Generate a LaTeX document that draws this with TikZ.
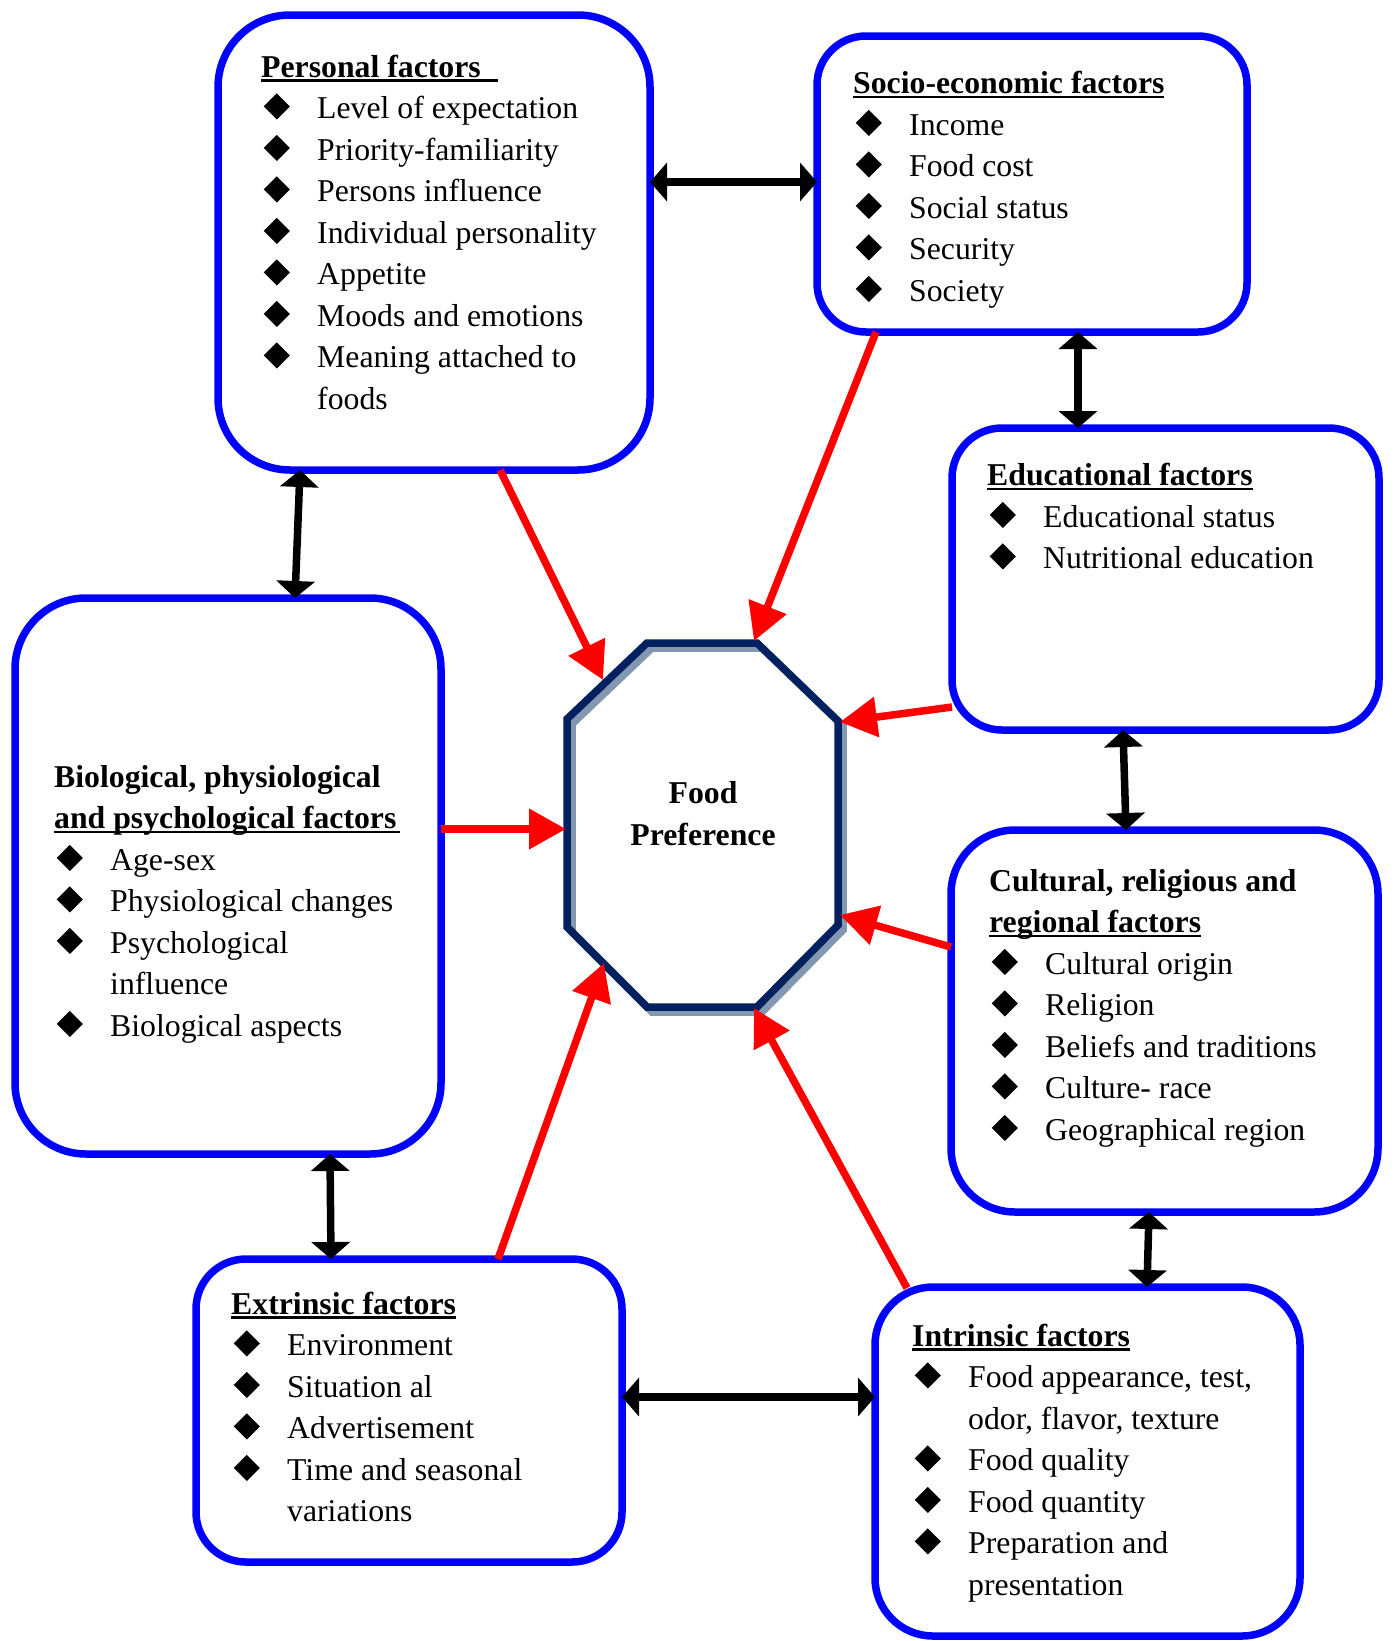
\documentclass[tikz,border=0pt]{standalone}
\usepackage{fontspec}
\setmainfont{Liberation Serif}
\usepackage{graphicx}
\usetikzlibrary{arrows.meta,calc}
\definecolor{boxblue}{HTML}{0000FF}
\definecolor{navy}{HTML}{002060}
\definecolor{shadowgray}{HTML}{8497B0}
\definecolor{arrowred}{HTML}{FF0000}
\newsavebox\ulbox
\newcommand\ulx[2][0pt]{\sbox\ulbox{#2\hspace*{#1}}\rlap{\rule[-4.5pt]{\wd\ulbox}{2.5pt}}\usebox\ulbox}
\newcommand\dmd{\makebox[56pt][l]{\hspace*{2.5pt}\raisebox{-1pt}{\rotatebox{45}{\rule{18.5pt}{18.5pt}}}}}
\newcommand\cont{\hspace*{56pt}}
\tikzset{
  factorbox/.style={draw=boxblue, line width=7.5pt, rounded corners=#1, inner sep=0pt, outer sep=0pt},
  boxtext/.style={anchor=base west, inner sep=0pt, font=\fontsize{31.75pt}{41.5pt}\selectfont},
  influence/.style={draw=arrowred, line width=7.5pt, -{Triangle[length=37pt,width=39pt]}},
  mutual/.style={draw=black, line width=7.5pt, {Triangle[length=17pt,width=38pt]}-{Triangle[length=17pt,width=38pt]}},
  octline/.style={draw=navy, line width=7.5pt},
  octshadow/.style={draw=shadowgray, line width=7.5pt},
}
\begin{document}
\begin{tikzpicture}[x=1pt,y=-1pt]
\useasboundingbox[fill=white] (0,0) rectangle (1395,1641);

% boxes
\node[factorbox=72pt, minimum width=432pt, minimum height=455pt] (P) at (434,242.5) {};
\node[factorbox=49pt, minimum width=430pt, minimum height=296pt] (S) at (1032,184) {};
\node[factorbox=50pt, minimum width=427pt, minimum height=302pt] (E) at (1165.5,579) {};
\node[factorbox=71pt, minimum width=426pt, minimum height=556pt] (B) at (228,876) {};
\node[factorbox=64pt, minimum width=427pt, minimum height=382pt] (C) at (1164.5,1021) {};
\node[factorbox=50pt, minimum width=426pt, minimum height=303pt] (X) at (409,1410.5) {};
\node[factorbox=58pt, minimum width=425pt, minimum height=349pt] (I) at (1087.5,1461.5) {};

% texts
\node[boxtext] (Pt) at (261,77) {\begin{tabular}[t]{@{}l@{}}
\textbf{\ulx[17pt]{Personal factors}}\\
\dmd Level of expectation\\
\dmd Priority-familiarity\\
\dmd Persons influence\\
\dmd Individual personality\\
\dmd Appetite\\
\dmd Moods and emotions\\
\dmd Meaning attached to\\
\cont foods
\end{tabular}};

\node[boxtext] (St) at (853,93.5) {\begin{tabular}[t]{@{}l@{}}
\textbf{\ulx{Socio-economic factors}}\\
\dmd Income\\
\dmd Food cost\\
\dmd Social status\\
\dmd Security\\
\dmd Society
\end{tabular}};

\node[boxtext] (Et) at (987,485.5) {\begin{tabular}[t]{@{}l@{}}
\textbf{\ulx{Educational factors}}\\
\dmd Educational status\\
\dmd Nutritional education
\end{tabular}};

\node[boxtext] (Bt) at (54,787) {\begin{tabular}[t]{@{}l@{}}
\textbf{Biological, physiological}\\
\textbf{\ulx[4pt]{and psychological factors}}\\
\dmd Age-sex\\
\dmd Physiological changes\\
\dmd Psychological\\
\cont influence\\
\dmd Biological aspects
\end{tabular}};

\node[boxtext] (Ct) at (989,891) {\begin{tabular}[t]{@{}l@{}}
\textbf{Cultural, religious and}\\
\textbf{\ulx{regional factors}}\\
\dmd Cultural origin\\
\dmd Religion\\
\dmd Beliefs and traditions\\
\dmd Culture- race\\
\dmd Geographical region
\end{tabular}};

\node[boxtext] (Xt) at (231,1314) {\begin{tabular}[t]{@{}l@{}}
\textbf{\ulx{Extrinsic factors}}\\
\dmd Environment\\
\dmd Situation al\\
\dmd Advertisement\\
\dmd Time and seasonal\\
\cont variations
\end{tabular}};

\node[boxtext] (It) at (912,1346) {\begin{tabular}[t]{@{}l@{}}
\textbf{\ulx{Intrinsic factors}}\\
\dmd Food appearance, test,\\
\cont odor, flavor, texture\\
\dmd Food quality\\
\dmd Food quantity\\
\dmd Preparation and\\
\cont presentation
\end{tabular}};

% octagon
\def\octpath{(647,643) -- (757,643) -- (838,721) -- (838,925) -- (757,1007) -- (647,1007) -- (567,927) -- (567,719) -- cycle}
\draw[octshadow, shift={(5,5)}] \octpath;
\draw[octline] \octpath;
\node[anchor=base, inner sep=0pt, font=\bfseries\fontsize{31.75pt}{42pt}\selectfont] (fp) at (703,803)
  {\begin{tabular}[t]{@{}c@{}}Food\\Preference\end{tabular}};

% arrow tips on the octagon
\coordinate (r1) at (603,680);
\coordinate (r2) at (754,641);
\coordinate (r3) at (840,722);
\coordinate (r4) at (566,829);
\coordinate (r5) at (840,915);
\coordinate (r6) at (604,963);
\coordinate (r7) at (754,1008);

% red influence arrows
\draw[influence] ($(P.south west)+(282,0)$) -- (r1);
\draw[influence] ($(S.south west)+(59,0)$) -- (r2);
\draw[influence] ($(E.north west)+(0,279)$) -- (r3);
\draw[influence] ($(B.north east)+(0,231)$) -- (r4);
\draw[influence] ($(C.north west)+(0,117)$) -- (r5);
\draw[influence] ($(X.north west)+(302,0)$) -- (r6);
\draw[influence] ($(I.north west)+(32,1)$) -- (r7);

% black mutual arrows
\draw[mutual] ($(P.north east)+(0,167)$) -- ($(S.north west)+(0,146)$);
\draw[mutual] ($(S.south west)+(261,0)$) -- ($(E.north west)+(126,0)$);
\draw[mutual] ($(P.south west)+(82,0)$) -- ($(B.north west)+(280,0)$);
\draw[mutual] ($(E.south west)+(171,0)$) -- ($(C.north west)+(175,0)$);
\draw[mutual] ($(B.south west)+(315,0)$) -- ($(X.north west)+(135,0)$);
\draw[mutual] ($(C.south west)+(198,0)$) -- ($(I.north west)+(272,0)$);
\draw[mutual] ($(X.north east)+(0,138)$) -- ($(I.north west)+(0,110)$);
\end{tikzpicture}
\end{document}
